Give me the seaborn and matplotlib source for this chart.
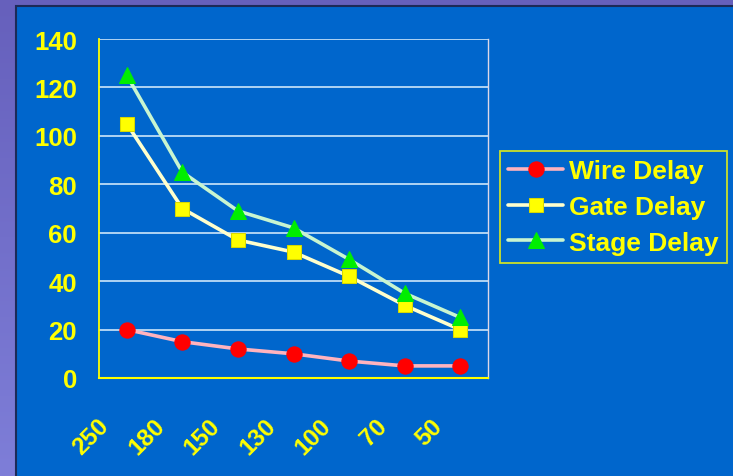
import numpy as np
import pandas as pd
import matplotlib
matplotlib.use("Agg")
import matplotlib.pyplot as plt
import seaborn as sns
from matplotlib.patches import Rectangle
from matplotlib.transforms import ScaledTranslation

# data
nodes = ["250", "180", "150", "130", "100", "70", "50"]
wire_delay = [20, 15, 12, 10, 7, 5, 5]
gate_delay = [105, 70, 57, 52, 42, 30, 20]
stage_delay = [125, 85, 69, 62, 49, 35, 25]
y_ticks = [0, 20, 40, 60, 80, 100, 120, 140]

YELLOW = "#FFFF00"
BLUE = "#0066CC"

sns.set_theme(style="white")
plt.rcParams["font.family"] = ["Liberation Sans", "DejaVu Sans"]

fig = plt.figure(figsize=(7.33, 4.77), dpi=100)

# purple gradient behind the blue slide panel
ax_bg = fig.add_axes([0, 0, 1, 1], zorder=-10)
grad = np.linspace(0, 1, 256).reshape(-1, 1)
ax_bg.imshow(grad, aspect="auto", cmap=matplotlib.colors.LinearSegmentedColormap.from_list(
    "pur", ["#6660BC", "#7E7ED8"]), extent=[0, 1, 1, 0])
ax_bg.set_axis_off()
fig.patches.append(Rectangle((16 / 733, -0.01), 1.0, 1 - 7 / 477 + 0.01, transform=fig.transFigure,
                             facecolor=BLUE, edgecolor="#1C2A58", lw=1.5, zorder=-5))

ax = fig.add_axes([99 / 733, 98 / 477, 389 / 733, 339 / 477])
ax.set_facecolor(BLUE)

df = pd.DataFrame({"node": nodes, "Wire Delay": wire_delay,
                   "Gate Delay": gate_delay, "Stage Delay": stage_delay})

styles = {
    "Wire Delay": dict(color="#FFB3BE", marker="o", markerfacecolor="#FF0000", markeredgecolor="#FF0000", markersize=11),
    "Gate Delay": dict(color="#FFFFCC", marker="s", markerfacecolor=YELLOW, markeredgecolor="#D8D800", markersize=10.5),
    "Stage Delay": dict(color="#C8F5D0", marker="^", markerfacecolor="#00EE00", markeredgecolor="#00EE00", markersize=12),
}
for name, st in styles.items():
    sns.lineplot(data=df, x="node", y=name, ax=ax, label=name, lw=2.6, sort=False, zorder=3, **st)

ax.set_xlim(-0.5, len(nodes) - 0.5)
ax.set_ylim(0, 140)
ax.set_yticks(y_ticks)
ax.set_xlabel("")
ax.set_ylabel("")

# horizontal grid
for y in y_ticks[1:]:
    ax.axhline(y, color="#CDE6FA", lw=1.2, zorder=1)

ax.spines["top"].set_visible(False)
ax.spines["right"].set_color("#DDD8E8")
ax.spines["right"].set_linewidth(1)
ax.spines["left"].set_color(YELLOW)
ax.spines["bottom"].set_color(YELLOW)
ax.spines["left"].set_linewidth(1.3)
ax.spines["bottom"].set_linewidth(1.5)

ax.tick_params(axis="y", colors=YELLOW, length=5, width=1.2, direction="out", labelsize=18.5, pad=11)
ax.tick_params(axis="x", colors=YELLOW, length=0, labelsize=17.5, pad=26)
ax.set_xticks(np.arange(0.5, len(nodes) - 0.5), minor=True)
ax.tick_params(axis="x", which="minor", direction="in", length=6, width=1.2, color="#D8D860")

for lbl in ax.get_yticklabels():
    lbl.set_fontweight("bold")
offset = ScaledTranslation(-13 / 100, 0, fig.dpi_scale_trans)
for lbl in ax.get_xticklabels():
    lbl.set_fontweight("bold")
    lbl.set_rotation(45)
    lbl.set_ha("right")
    lbl.set_transform(lbl.get_transform() + offset)

leg = ax.legend(loc="upper left", bbox_to_anchor=(500 / 733, 1 - 152 / 477), bbox_transform=fig.transFigure,
                borderaxespad=0, frameon=True, fancybox=False, facecolor=BLUE, edgecolor=YELLOW,
                prop={"weight": "bold", "size": 19}, handlelength=2.1, handletextpad=0.22,
                labelspacing=0.45, borderpad=0.3)
leg.get_frame().set_linewidth(1.3)
for t in leg.get_texts():
    t.set_color(YELLOW)

fig.savefig("out.png", dpi=100, facecolor="#6E6EC8")
